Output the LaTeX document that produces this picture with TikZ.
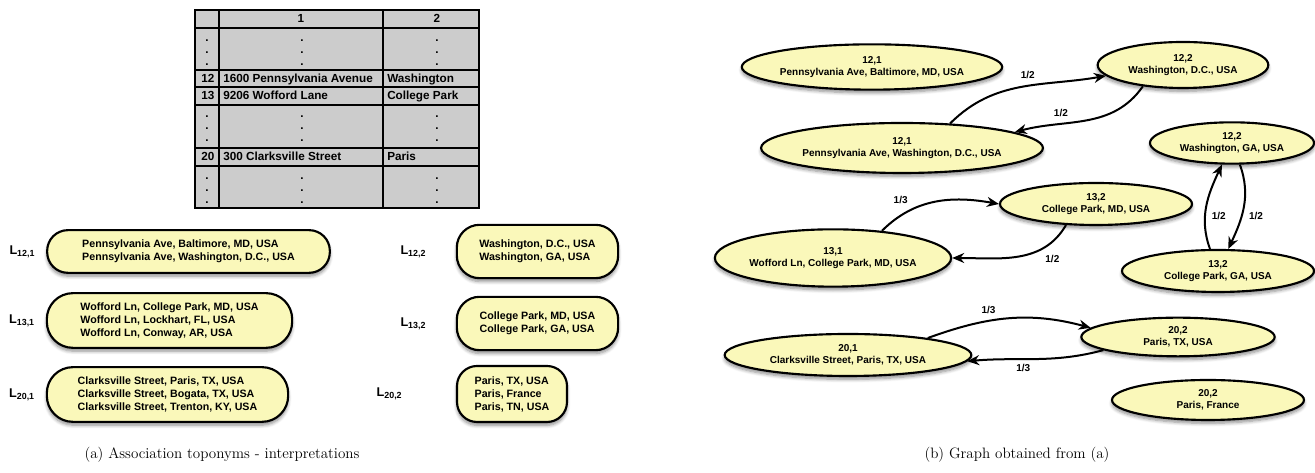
\documentclass[tikz,border=0pt]{standalone}
\usepackage{fontspec}
\setsansfont{Liberation Sans}
\usepackage{tikz}
\usetikzlibrary{positioning,shapes.geometric,arrows.meta,shadows.blur}
\definecolor{placefill}{RGB}{250,248,186}
\definecolor{cellgray}{RGB}{204,204,204}
\tikzset{
  soft shadow/.style={blur shadow={shadow xshift=0pt, shadow yshift=-2.5pt,
      shadow blur radius=2.5pt, shadow blur steps=6, shadow opacity=45}},
  place/.style={ellipse, draw, line width=1.6pt, fill=placefill, inner sep=0pt,
      align=center, font=\sffamily\bfseries\fontsize{7.5}{8.6}\selectfont, soft shadow},
  reading/.style={rectangle, rounded corners=#1, draw, line width=1.6pt,
      fill=placefill, align=left, font=\sffamily\bfseries\fontsize{8}{9.75}\selectfont,
      soft shadow},
  reading/.default=15pt,
  list name/.style={font=\sffamily\bfseries\fontsize{9.5}{11}\selectfont, inner sep=0pt},
  cell/.style={font=\sffamily\bfseries\fontsize{8.8}{9}\selectfont, inner sep=0pt},
  weight/.style={font=\sffamily\bfseries\fontsize{7.5}{9}\selectfont}}

\begin{document}
\begin{tikzpicture}[x=0.75pt, y=0.75pt, auto]
  \useasboundingbox (0,0) rectangle (1315,473);

  % (a) the table
  \fill[cellgray] (195,265) rectangle (479,463);
  \foreach \y in {463,445,403,386,368,325,307,265}
    \draw[line width=1.5pt, line cap=rect] (195,\y) -- (479,\y);
  \foreach \x in {195,219,383,479}
    \draw[line width=1.5pt, line cap=rect] (\x,265) -- (\x,463);
  \node[cell, anchor=base] (head1) at (301,450.5) {1};
  \node[cell, anchor=base] (head2) at (437,450.5) {2};
  \foreach \y/\i/\street/\city in {394.5/12/1600 Pennsylvania Avenue/Washington,
      377/13/9206 Wofford Lane/College Park, 316/20/300 Clarksville Street/Paris} {
    \node[cell, anchor=base] (row\i) at (208,\y-4) {\i};
    \node[cell, anchor=base west] (row\i-1) at (223,\y-4) {\street};
    \node[cell, anchor=base west] (row\i-2) at (387,\y-4) {\city};
  }
  \foreach \y [count=\k] in {421,345,283}
    \foreach \x [count=\c] in {207,302,437}
      \foreach \d [count=\j] in {12,0,-12}
        \node[cell, anchor=base] (dot-\k-\c-\j) at (\x,\y+\d-1.5) {.};

  % (a) the lists
  \node[reading=15.5pt, minimum width=212pt, minimum height=32pt] (list121) at (188.5,221.5)
    {Pennsylvania Ave, Baltimore, MD, USA\\Pennsylvania Ave, Washington, D.C., USA};
  \node[reading=19.5pt, minimum width=184pt, minimum height=41pt] (list131) at (169.5,152.5)
    {Wofford Ln, College Park, MD, USA\\Wofford Ln, Lockhart, FL, USA\\Wofford Ln, Conway, AR, USA};
  \node[reading=19.5pt, minimum width=181pt, minimum height=41pt] (list201) at (167.5,78.5)
    {Clarksville Street, Paris, TX, USA\\Clarksville Street, Bogata, TX, USA\\Clarksville Street, Trenton, KY, USA};
  \node[reading=17pt, minimum width=121pt, minimum height=40pt] (list122) at (537.5,221.5)
    {Washington, D.C., USA\\Washington, GA, USA};
  \node[reading=17pt, minimum width=121pt, minimum height=40pt] (list132) at (537.5,149.5)
    {College Park, MD, USA\\College Park, GA, USA};
  \node[reading=15pt, minimum width=82.5pt, minimum height=42pt] (list202) at (512,79)
    {Paris, TX, USA\\Paris, France\\Paris, TN, USA};

  \node[list name] (name121) [left=8pt of list121] {L\textsubscript{12,1}};
  \node[list name] (name131) [left=8pt of list131] {L\textsubscript{13,1}};
  \node[list name] (name201) [left=8pt of list201] {L\textsubscript{20,1}};
  \node[list name] (name122) [left=22pt of list122] {L\textsubscript{12,2}};
  \node[list name] (name132) [left=22pt of list132] {L\textsubscript{13,2}};
  \node[list name] (name202) [left=40pt of list202] {L\textsubscript{20,2}};

  % (b) the graph
  \node[place, minimum width=194pt, minimum height=34pt] (p121a) at (872,406)
    {12,1\\Pennsylvania Ave, Baltimore, MD, USA};
  \node[place, minimum width=128pt, minimum height=34.5pt] (p122a) at (1183,408)
    {12,2\\Washington, D.C., USA};
  \node[place, minimum width=205.5pt, minimum height=37.5pt] (p121b) at (902,325)
    {12,1\\Pennsylvania Ave, Washington, D.C., USA};
  \node[place, minimum width=123pt, minimum height=31pt] (p122b) at (1232,330)
    {12,2\\Washington, GA, USA};
  \node[place, minimum width=144pt, minimum height=31.5pt] (p132a) at (1096,269)
    {13,2\\College Park, MD, USA};
  \node[place, minimum width=176pt, minimum height=43pt] (p131) at (833,215)
    {13,1\\Wofford Ln, College Park, MD, USA};
  \node[place, minimum width=144pt, minimum height=31.5pt] (p132b) at (1218,202)
    {13,2\\College Park, GA, USA};
  \node[place, minimum width=145pt, minimum height=29pt] (p202a) at (1178,136)
    {20,2\\Paris, TX, USA};
  \node[place, minimum width=185pt, minimum height=31.5pt] (p201) at (848,118)
    {20,1\\Clarksville Street, Paris, TX, USA};
  \node[place, minimum width=144pt, minimum height=30pt] (p202b) at (1208,73)
    {20,2\\Paris, France};

  \path[-{Stealth[length=9pt, width=7.5pt]}, line width=1.5pt, every node/.style={weight}]
    (p121b.27)  edge[out=45, in=190]  node[pos=0.62] {1/2} (p122a.188)
    (p122a.208) edge[out=235, in=15]  node[pos=0.6, swap] {1/2} (p121b.8)
    (p131.29)   edge[out=45, in=170]  node[pos=0.3] {1/3} (p132a.180)
    (p132a.215) edge[out=240, in=0]   node[pos=0.3] {1/2} (p131.0)
    (p132b.110) edge[out=110, in=245] node[pos=0.5, swap] {1/2} (p122b.245)
    (p122b.290) edge[out=290, in=65]  node[pos=0.5] {1/2} (p132b.65)
    (p201.12)   edge[out=20, in=165]  node[pos=0.45] {1/3} (p202a.174)
    (p202a.190) edge[out=195, in=5]   node[pos=0.6] {1/3} (p201.357);

  % captions
  \node (capa) at (222,18) {\fontsize{11.3}{13}\selectfont (a) Association toponyms - interpretations};
  \node (capb) at (1017,18) {\fontsize{11.3}{13}\selectfont (b) Graph obtained from (a)};
\end{tikzpicture}
\end{document}
